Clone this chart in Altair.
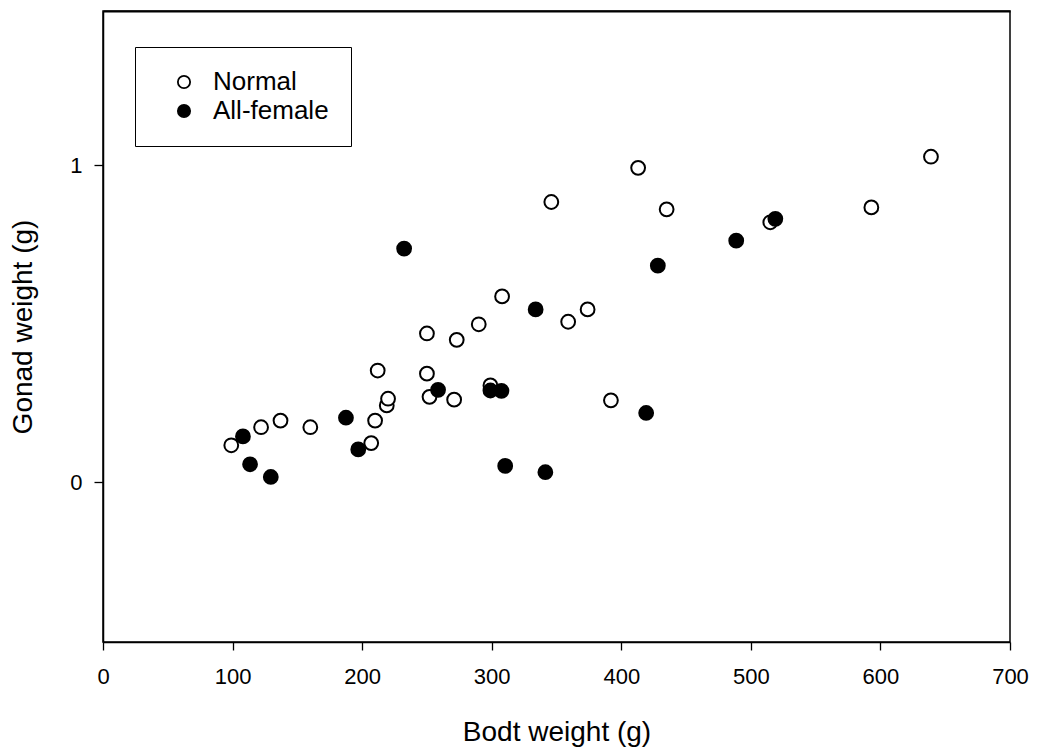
import altair as alt
import pandas as pd

# Normal (open circles)
normal_x = [99, 122, 137, 160, 207, 210, 212, 219, 220, 250, 250, 252, 271, 273,
            290, 299, 308, 346, 359, 374, 392, 413, 435, 515, 593, 639]
normal_y = [0.116, 0.173, 0.194, 0.173, 0.123, 0.194, 0.352, 0.242, 0.263, 0.469,
            0.342, 0.269, 0.260, 0.449, 0.498, 0.305, 0.586, 0.884, 0.506, 0.545,
            0.258, 0.992, 0.861, 0.820, 0.867, 1.027]

# All-female (filled circles)
female_x = [108, 113.5, 129.5, 187.5, 197, 232.4, 258.6, 299, 307.5, 310.4,
            333.9, 341.4, 419.2, 428.2, 488.7, 518.9]
female_y = [0.144, 0.056, 0.016, 0.203, 0.103, 0.737, 0.291, 0.289, 0.288, 0.051,
            0.545, 0.031, 0.218, 0.683, 0.762, 0.831]

groups = ["Normal", "All-female"]
x_ticks = [0, 100, 200, 300, 400, 500, 600, 700]
y_ticks = [0, 1]

df = pd.DataFrame({
    "body": normal_x + female_x,
    "gonad": normal_y + female_y,
    "group": [groups[0]] * len(normal_x) + [groups[1]] * len(female_x),
})

FONT = "Liberation Sans"
xscale = alt.Scale(domain=[0, 700], nice=False, zero=False)
yscale = alt.Scale(domain=[-0.505, 1.487], nice=False, zero=False)

yaxis = alt.Axis(values=y_ticks, grid=False, tickSize=9, labelPadding=12,
                 labelFontSize=22, titleFontSize=28, titlePadding=32,
                 labelFont=FONT, titleFont=FONT, titleFontWeight="normal",
                 domainColor="black", tickColor="black", labelColor="black",
                 titleColor="black", labelFlush=False, tickWidth=1.3, domainWidth=1.5)

points = alt.Chart(df).mark_point(
    shape="circle", filled=True, stroke="black", strokeWidth=2, size=190, opacity=1
).encode(
    x=alt.X("body:Q", title="Bodt weight (g)", scale=xscale,
            axis=alt.Axis(values=x_ticks, grid=False, tickSize=8, labelPadding=16,
                          labelFontSize=22, titleFontSize=28, titlePadding=31,
                          labelFont=FONT, titleFont=FONT, titleFontWeight="normal",
                          domainColor="black", tickColor="black", labelColor="black",
                          titleColor="black", labelFlush=False, tickWidth=1.3, domainWidth=1.5)),
    y=alt.Y("gonad:Q", title="Gonad weight (g)", scale=yscale, axis=yaxis),
    fill=alt.Fill("group:N", sort=groups,
                  scale=alt.Scale(domain=groups, range=["white", "black"]),
                  legend=alt.Legend(title=None, orient="none", legendX=32, legendY=36,
                                    strokeColor="black", fillColor="white", padding=22,
                                    symbolOffset=14, symbolSize=150, symbolType="circle",
                                    symbolStrokeColor="black", symbolStrokeWidth=1.8,
                                    labelFontSize=26, labelFont=FONT, labelColor="black",
                                    labelOffset=16, rowPadding=3)),
    order=alt.Order("order:Q"),
).transform_calculate(order="datum.group === 'Normal' ? 0 : 1")

# invisible layer that only carries the top frame line
frame_top = alt.Chart(df).mark_point(opacity=0).encode(
    x=alt.X("body:Q", scale=xscale,
            axis=alt.Axis(orient="top", labels=False, ticks=False, title=None, grid=False,
                          domainColor="black", domainWidth=2)),
    y=alt.Y("gonad:Q", title="Gonad weight (g)", scale=yscale, axis=yaxis),
)

chart = alt.layer(points, frame_top).resolve_axis(x="independent").properties(
    width=907, height=631,
    autosize=alt.AutoSizeParams(type="none"),
    padding={"left": 95, "top": 3, "right": 20, "bottom": 105},
    background="white",
).configure_view(stroke="black", strokeWidth=1.5)

chart.save("out.html", embed_options={"renderer": "svg", "actions": False})
